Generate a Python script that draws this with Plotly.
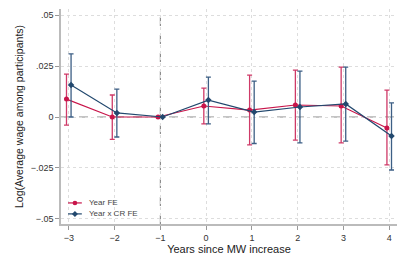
import plotly.graph_objects as go

years = [-3, -2, -1, 0, 1, 2, 3, 4]
red_y = [0.0088, 0.0, 0.0, 0.0054, 0.0034, 0.0059, 0.0054, -0.0054]
red_hi = [0.021, 0.0108, 0.0, 0.0142, 0.0206, 0.023, 0.0245, 0.0132]
red_lo = [-0.004, -0.011, 0.0, -0.0034, -0.0137, -0.0113, -0.0127, -0.0235]
blue_y = [0.0157, 0.002, 0.0, 0.0083, 0.0024, 0.0049, 0.0064, -0.0093]
blue_hi = [0.031, 0.0137, 0.0, 0.0196, 0.0176, 0.0225, 0.0245, 0.0069]
blue_lo = [0.0, -0.0098, 0.0, -0.0034, -0.013, -0.0127, -0.0118, -0.026]
ytick_vals = [-0.05, -0.025, 0, 0.025, 0.05]
ytick_text = ["\u2212.05", "\u2212.025", "0", ".025", ".05"]
xtick_text = ["\u22123", "\u22122", "\u22121", "0", "1", "2", "3", "4"]
series_names = ["Year FE", "Year x CR FE"]

RED = "#C8154A"
BLUE = "#22486E"

def series(ys, hi, lo, off, color, symbol, ecolor):
    xs = [x + off for x in years]
    ep = [h - y for h, y in zip(hi, ys)]
    em = [y - l for y, l in zip(ys, lo)]
    vis = [i for i in range(len(years)) if hi[i] != lo[i]]
    err = go.Scatter(
        x=[xs[i] for i in vis], y=[ys[i] for i in vis], mode="markers",
        marker=dict(size=1, color=color, opacity=0),
        error_y=dict(type="data", array=[ep[i] for i in vis], arrayminus=[em[i] for i in vis],
                     color=ecolor, thickness=1.3, width=2.5),
        showlegend=False, hoverinfo="skip")
    main = go.Scatter(
        x=xs, y=ys, mode="lines+markers", showlegend=False,
        line=dict(color=color, width=1.2),
        marker=dict(color=color, size=5, symbol=symbol))
    return [err, main]

fig = go.Figure()
for t in series(red_y, red_hi, red_lo, -0.05, RED, "circle", "#CF3A68"):
    fig.add_trace(t)
for t in series(blue_y, blue_hi, blue_lo, 0.05, BLUE, "diamond", "#3D5F85"):
    fig.add_trace(t)

fig.add_shape(type="line", xref="x", yref="y", x0=-3.17, x1=4.17, y0=0, y1=0,
              line=dict(color="#888888", width=1, dash="dash"), layer="below")
fig.add_shape(type="line", xref="x", yref="paper", x0=-1, x1=-1, y0=0, y1=1,
              line=dict(color="#777777", width=1, dash="dash"), layer="below")

# manual legend (compact, like the reference)
leg_y = [0.098, 0.047]
for name, color, yy, kind in zip(series_names, [RED, BLUE], leg_y, ["circle", "diamond"]):
    fig.add_shape(type="line", xref="paper", yref="paper", x0=0.021, x1=0.062, y0=yy, y1=yy,
                  line=dict(color=color, width=1.2))
    if kind == "circle":
        fig.add_shape(type="circle", xref="paper", yref="paper", xsizemode="pixel", ysizemode="pixel",
                      xanchor=0.0415, yanchor=yy, x0=-2.3, x1=2.3, y0=-2.3, y1=2.3,
                      fillcolor=color, line=dict(color=color, width=0))
    else:
        fig.add_shape(type="path", xref="paper", yref="paper", xsizemode="pixel", ysizemode="pixel",
                      xanchor=0.0415, yanchor=yy, path="M 0 3 L 3 0 L 0 -3 L -3 0 Z",
                      fillcolor=color, line=dict(color=color, width=0))
    fig.add_annotation(xref="paper", yref="paper", x=0.076, y=yy, text=name, showarrow=False,
                       xanchor="left", yanchor="middle", font=dict(size=8, color="#444444"))

font = "Liberation Sans, Arial, sans-serif"
fig.update_layout(
    width=407, height=271,
    margin=dict(l=61, r=10, t=9, b=47, autoexpand=False),
    paper_bgcolor="white", plot_bgcolor="white",
    font=dict(family=font, size=9, color="#333333"),
    showlegend=False,
    xaxis=dict(range=[-3.17, 4.17], tickvals=years, ticktext=xtick_text,
               showgrid=True, gridcolor="#DDDDDD", griddash="dot", gridwidth=1,
               showline=True, linecolor="#BBBBBB", linewidth=1.5,
               ticks="outside", ticklen=4, tickcolor="#999999",
               zeroline=False, automargin=False,
               title=dict(text="Years since MW increase", font=dict(size=11, color="#222222"), standoff=4)),
    yaxis=dict(range=[-0.0525, 0.053], tickvals=ytick_vals, ticktext=ytick_text,
               showgrid=True, gridcolor="#DDDDDD", griddash="dot", gridwidth=1,
               showline=True, linecolor="#BBBBBB", linewidth=1.5,
               ticks="outside", ticklen=4, tickcolor="#999999",
               zeroline=False, automargin=False,
               title=dict(text="Log(Average wage among participants)", font=dict(size=10.5, color="#222222"), standoff=5)),
)

fig.write_html("out.html", config={"displayModeBar": False},
               post_script="document.body.style.margin='0';document.body.style.padding='0';")
